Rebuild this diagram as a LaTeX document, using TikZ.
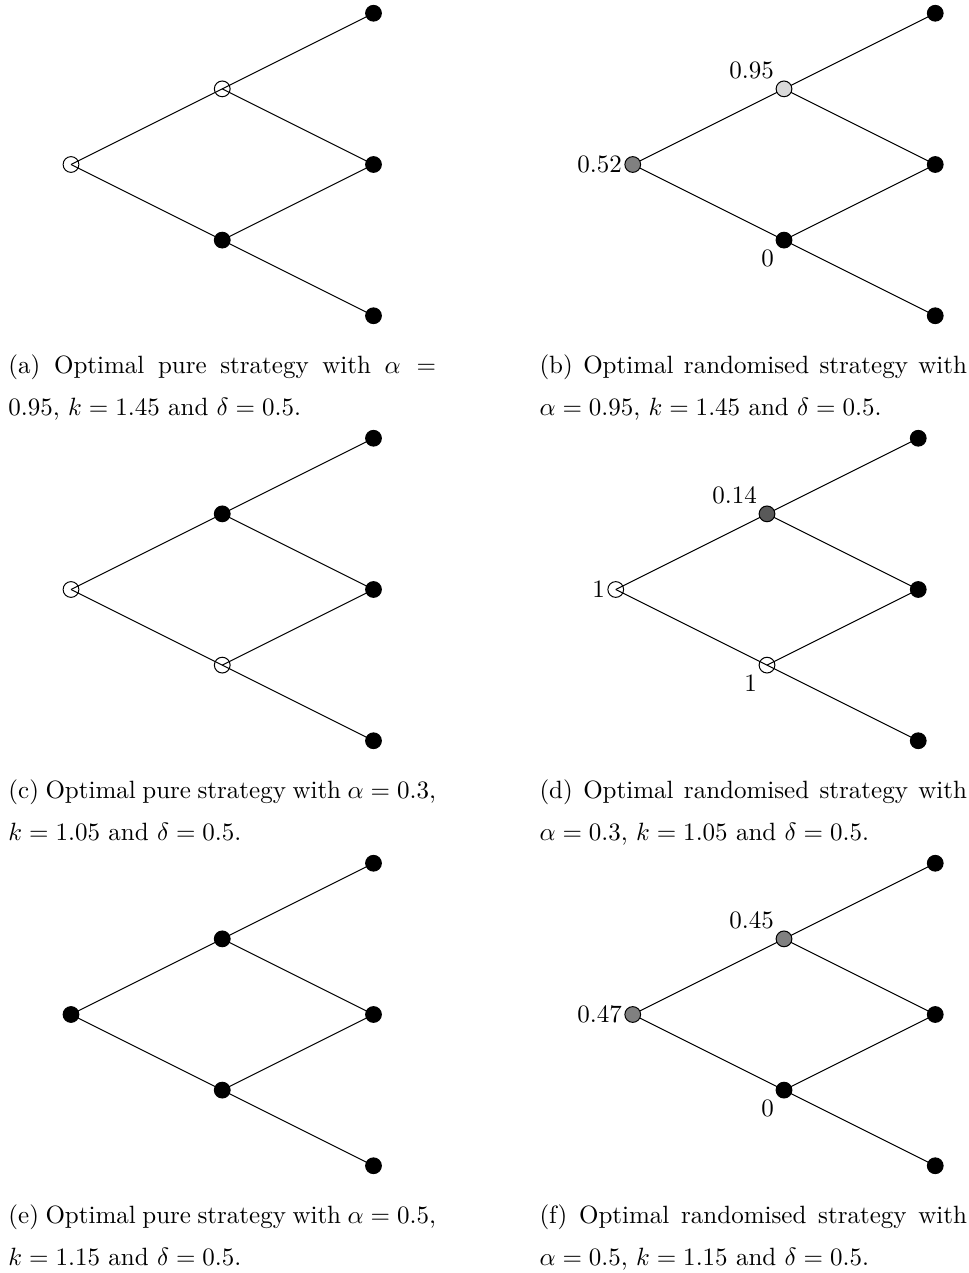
\documentclass[tikz,border=0pt]{standalone}
\usepackage{amsmath}
\usepackage{tikz}
\usetikzlibrary{backgrounds}

\begin{document}
\begin{tikzpicture}[
  x=1pt, y=1pt,
  vtx/.style={circle, draw, thin, minimum size=6.3pt, inner sep=0pt},
  stopnode/.style={vtx, fill=black},
  gonode/.style={vtx},
  mixnode/.style={vtx, fill=#1},
  val/.style={inner sep=1.5pt},
  lattice/.style={x=60.5pt, y=30.25pt},
  caption/.style={text width=171pt, align=justify, inner sep=0pt,
                  anchor=north west, font=\linespread{1.4}\selectfont}
]
  \useasboundingbox (0,0) rectangle (387.6,509.2);

  % (a) pure, alpha = 0.95
  \begin{scope}[lattice, shift={(28.4pt,443.4pt)}]
    \node[gonode] (aR) at (0,0) {};
    \node[gonode] (aU) at (1,1) {};
    \node[stopnode] (aD) at (1,-1) {};
    \node[stopnode] (aUU) at (2,2) {};
    \node[stopnode] (aUD) at (2,0) {};
    \node[stopnode] (aDD) at (2,-2) {};
  \end{scope}

  % (b) randomised, alpha = 0.95
  \begin{scope}[lattice, shift={(253.1pt,443.4pt)}]
    \node[mixnode=black!50, label={[val, inner sep=0.8pt]left:$0.52$}] (bR) at (0,0) {};
    \node[mixnode=black!15, label={[val]above left:$0.95$}] (bU) at (1,1) {};
    \node[stopnode, label={[val]below left:$0$}] (bD) at (1,-1) {};
    \node[stopnode] (bUU) at (2,2) {};
    \node[stopnode] (bUD) at (2,0) {};
    \node[stopnode] (bDD) at (2,-2) {};
  \end{scope}

  % (c) pure, alpha = 0.3
  \begin{scope}[lattice, shift={(28.4pt,273.4pt)}]
    \node[gonode] (cR) at (0,0) {};
    \node[stopnode] (cU) at (1,1) {};
    \node[gonode] (cD) at (1,-1) {};
    \node[stopnode] (cUU) at (2,2) {};
    \node[stopnode] (cUD) at (2,0) {};
    \node[stopnode] (cDD) at (2,-2) {};
  \end{scope}

  % (d) randomised, alpha = 0.3
  \begin{scope}[lattice, shift={(246.3pt,273.4pt)}]
    \node[gonode, label={[val, inner sep=0.8pt]left:$1$}] (dR) at (0,0) {};
    \node[mixnode=black!65, label={[val]above left:$0.14$}] (dU) at (1,1) {};
    \node[gonode, label={[val]below left:$1$}] (dD) at (1,-1) {};
    \node[stopnode] (dUU) at (2,2) {};
    \node[stopnode] (dUD) at (2,0) {};
    \node[stopnode] (dDD) at (2,-2) {};
  \end{scope}

  % (e) pure, alpha = 0.5
  \begin{scope}[lattice, shift={(28.4pt,103.4pt)}]
    \node[stopnode] (eR) at (0,0) {};
    \node[stopnode] (eU) at (1,1) {};
    \node[stopnode] (eD) at (1,-1) {};
    \node[stopnode] (eUU) at (2,2) {};
    \node[stopnode] (eUD) at (2,0) {};
    \node[stopnode] (eDD) at (2,-2) {};
  \end{scope}

  % (f) randomised, alpha = 0.5
  \begin{scope}[lattice, shift={(253.1pt,103.4pt)}]
    \node[mixnode=black!50, label={[val, inner sep=0.8pt]left:$0.47$}] (fR) at (0,0) {};
    \node[mixnode=black!50, label={[val]above left:$0.45$}] (fU) at (1,1) {};
    \node[stopnode, label={[val]below left:$0$}] (fD) at (1,-1) {};
    \node[stopnode] (fUU) at (2,2) {};
    \node[stopnode] (fUD) at (2,0) {};
    \node[stopnode] (fDD) at (2,-2) {};
  \end{scope}

  % branches go under the nodes
  \begin{pgfonlayer}{background}
    \foreach \p in {a,b,c,d,e,f} {
      \draw[thin] (\p R.center) -- (\p U.center);
      \draw[thin] (\p R.center) -- (\p D.center);
      \draw[thin] (\p U.center) -- (\p UU.center);
      \draw[thin] (\p U.center) -- (\p UD.center);
      \draw[thin] (\p D.center) -- (\p UD.center);
      \draw[thin] (\p D.center) -- (\p DD.center);
    }
  \end{pgfonlayer}

  % captions
  \node[caption] (capA) at (3.2,367.5) {(a) Optimal pure strategy with $\alpha =$\linebreak
    $0.95$, $k = 1.45$ and $\delta = 0.5$.};
  \node[caption] (capB) at (215.6,367.5) {(b) Optimal randomised strategy with\linebreak
    $\alpha = 0.95$, $k = 1.45$ and $\delta = 0.5$.};
  \node[caption] (capC) at (3.2,197.5) {(c) Optimal pure strategy with $\alpha = 0.3$,\linebreak
    $k = 1.05$ and $\delta = 0.5$.};
  \node[caption] (capD) at (215.6,197.5) {(d) Optimal randomised strategy with\linebreak
    $\alpha = 0.3$, $k = 1.05$ and $\delta = 0.5$.};
  \node[caption] (capE) at (3.2,27.5) {(e) Optimal pure strategy with $\alpha = 0.5$,\linebreak
    $k = 1.15$ and $\delta = 0.5$.};
  \node[caption] (capF) at (215.6,27.5) {(f) Optimal randomised strategy with\linebreak
    $\alpha = 0.5$, $k = 1.15$ and $\delta = 0.5$.};
\end{tikzpicture}
\end{document}
